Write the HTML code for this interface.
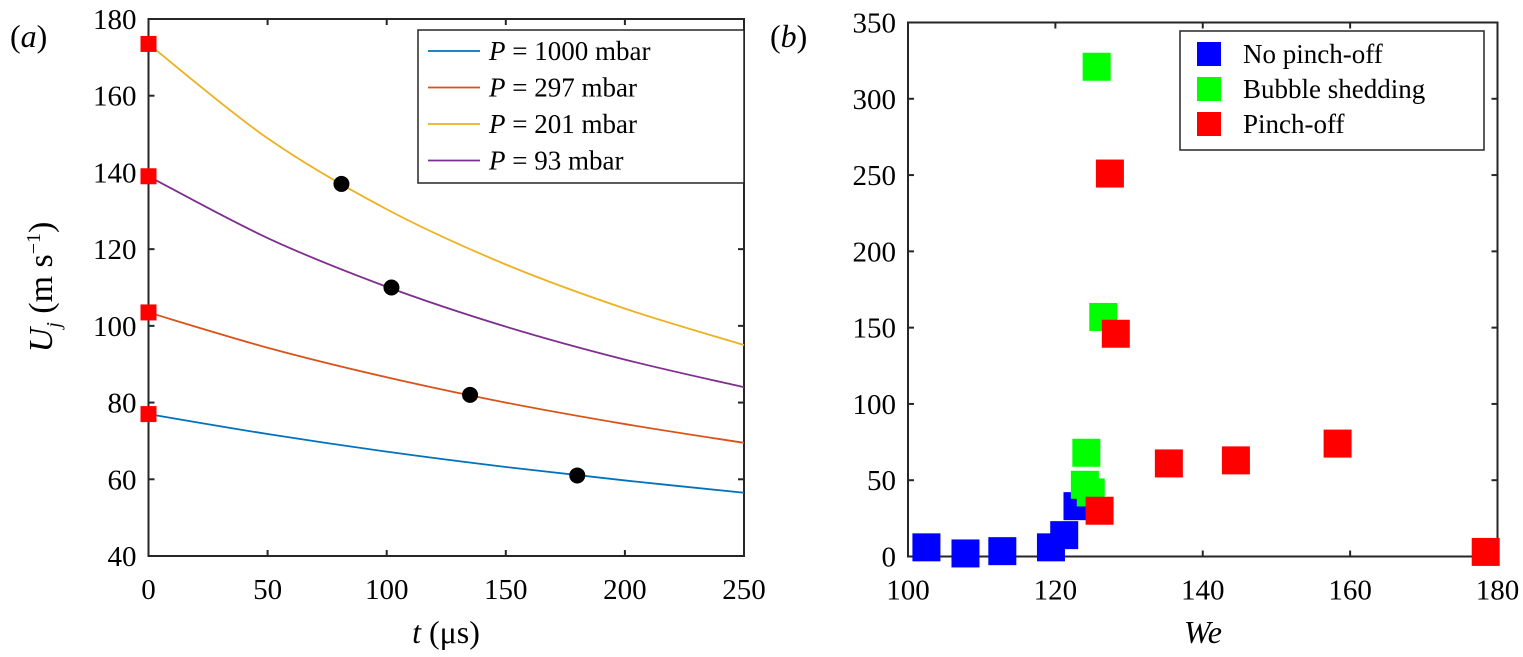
<!DOCTYPE html>
<html><head><meta charset="utf-8"><style>
body{margin:0;background:#fff}
svg{display:block}
svg text{font-family:"Liberation Serif","Times New Roman",serif}
</style></head><body>
<svg id="fig" width="1523" height="657" font-family="Liberation Serif, serif"></svg>
<script>
// Panel (a) data
const tVals=[0,50,100,150,200,250];
const u1000=[77,71.8,67.2,63.2,59.7,56.5];
const u297=[103.5,94.3,86.6,80.0,74.4,69.5];
const u201=[173.5,148.9,130.4,116.0,104.5,95];
const u93=[139,122.9,110.2,99.8,91.2,84];
const markT=[180,135,81,102];
const markU=[61,82,137,110];
const xTicksA=[0,50,100,150,200,250];
const yTicksA=[40,60,80,100,120,140,160,180];
// Panel (b) data
const noWe=[102.5,107.8,112.8,119.4,121.2,123];
const noV=[6,2,3.5,6,14,33];
const bsWe=[125.6,126.5,124.2,124.0,124.8];
const bsV=[321,157,68,47,42];
const poWe=[126,127.4,128.2,135.4,144.5,158.3,178.4];
const poV=[30,251,146,61,63,74,3];
const xTicksB=[100,120,140,160,180];
const yTicksB=[0,50,100,150,200,250,300,350];

const NS="http://www.w3.org/2000/svg";
const svg=document.getElementById('fig');
function mk(tag,attrs,parent){const e=document.createElementNS(NS,tag);for(const k in attrs)e.setAttribute(k,attrs[k]);(parent||svg).appendChild(e);return e;}
function txt(x,y,s,size,anchor,parent){const e=mk('text',{x:x,y:y,'font-size':size,'text-anchor':anchor||'middle','font-family':'Liberation Serif, serif'},parent);e.innerHTML=s;return e;}

const A={x0:148.5,x1:744,y0:556,y1:19,xmin:0,xmax:250,ymin:40,ymax:180};
const B={x0:908,x1:1497.5,y0:556.5,y1:22.5,xmin:100,xmax:180,ymin:0,ymax:350};
function sx(ax,v){return ax.x0+(v-ax.xmin)/(ax.xmax-ax.xmin)*(ax.x1-ax.x0);}
function sy(ax,v){return ax.y0-(v-ax.ymin)/(ax.ymax-ax.ymin)*(ax.y0-ax.y1);}

function drawAxes(ax,xt,yt,name){
  const g=mk('g',{});
  
  
  const r=mk('rect',{x:ax.x0,y:ax.y1,width:ax.x1-ax.x0,height:ax.y0-ax.y1,fill:'none',stroke:'#262626','stroke-width':2},g);
  
  
  xt.forEach(v=>{const x=sx(ax,v);
    mk('line',{x1:x,x2:x,y1:ax.y0,y2:ax.y0-6,stroke:'#262626','stroke-width':2},g);
    mk('line',{x1:x,x2:x,y1:ax.y1,y2:ax.y1+6,stroke:'#262626','stroke-width':2},g);
    const t=txt(x,ax.y0+43,v,29,'middle',g);
    
    });
  yt.forEach(v=>{const y=sy(ax,v);
    mk('line',{x1:ax.x0,x2:ax.x0+6,y1:y,y2:y,stroke:'#262626','stroke-width':2},g);
    mk('line',{x1:ax.x1,x2:ax.x1-6,y1:y,y2:y,stroke:'#262626','stroke-width':2},g);
    const t=txt(ax.x0-12,y+10,v,29,'end',g);
    
    });
}
drawAxes(A,xTicksA,yTicksA,'panel-a');
drawAxes(B,xTicksB,yTicksB,'panel-b');

function curve(xs,ys,color,name){
  const p=xs.map((x,i)=>[sx(A,x),sy(A,ys[i])]);
  let d='M'+p[0][0]+','+p[0][1];
  for(let i=0;i<p.length-1;i++){const p0=p[Math.max(i-1,0)],p1=p[i],p2=p[i+1],p3=p[Math.min(i+2,p.length-1)];
    d+=' C'+(p1[0]+(p2[0]-p0[0])/6)+','+(p1[1]+(p2[1]-p0[1])/6)+' '+(p2[0]-(p3[0]-p1[0])/6)+','+(p2[1]-(p3[1]-p1[1])/6)+' '+p2[0]+','+p2[1];}
  const e=mk('path',{d:d,fill:'none',stroke:color,'stroke-width':1.8});
  
  
}
const cols=['#0072BD','#D95319','#EDB120','#7E2F8E'];
const series=[u1000,u297,u201,u93];
const names=['curve-1000-mbar','curve-297-mbar','curve-201-mbar','curve-93-mbar'];
series.forEach((s,i)=>curve(tVals,s,cols[i],names[i]));
series.forEach((s,i)=>{const r=mk('rect',{x:sx(A,0)-8,y:sy(A,s[0])-8,width:16,height:16,fill:'#f00'});
  
  });
markT.forEach((t,i)=>{const c=mk('circle',{cx:sx(A,t),cy:sy(A,markU[i]),r:8,fill:'#000'});
  
  });

const la=mk('g',{});


mk('rect',{x:418,y:30,width:326,height:153,fill:'#fff',stroke:'#262626','stroke-width':1.5},la);
const labsA=['1000','297','201','93'];
labsA.forEach((l,i)=>{const y=51+i*36.5;
  mk('line',{x1:428,x2:480,y1:y,y2:y,stroke:cols[i],'stroke-width':1.8},la);
  const t=txt(489,y+9,'<tspan font-style="italic">P</tspan> = '+l+' mbar',27,'start',la);
  
  });

function squares(xs,vs,color,name){xs.forEach((x,i)=>{const r=mk('rect',{x:sx(B,x)-14,y:sy(B,vs[i])-14,width:28,height:28,fill:color});
  
  });}
squares(noWe,noV,'#0000ff','no-pinch-off-point');
squares(bsWe,bsV,'#00ff00','bubble-shedding-point');
squares(poWe,poV,'#ff0000','pinch-off-point');

const lb=mk('g',{});


mk('rect',{x:1180,y:31,width:304,height:119,fill:'#fff',stroke:'#262626','stroke-width':1.5},lb);
[['No pinch-off','#0000ff'],['Bubble shedding','#00ff00'],['Pinch-off','#ff0000']].forEach((e,i)=>{const y=54+i*35;
  mk('rect',{x:1197,y:y-12,width:24,height:24,fill:e[1]},lb);
  const t=txt(1243,y+9,e[0],27,'start',lb);
  
  });

let t;
t=txt(10,47,'(<tspan font-style="italic">a</tspan>)',32,'start');
t=txt(770,47,'(<tspan font-style="italic">b</tspan>)',32,'start');
t=txt(446,643,'<tspan font-style="italic">t</tspan> (μs)',32,'middle');
t=txt(1203,643,'<tspan font-style="italic">We</tspan>',32,'middle');
t=txt(0,0,'<tspan font-style="italic">U</tspan><tspan font-style="italic" font-size="20" dy="8">j</tspan><tspan dy="-8"> (m s</tspan><tspan font-size="20" dy="-12">−1</tspan><tspan dy="12">)</tspan>',34,'middle');
t.setAttribute('transform','translate(52,287) rotate(-90)');

</script>
</body></html>
